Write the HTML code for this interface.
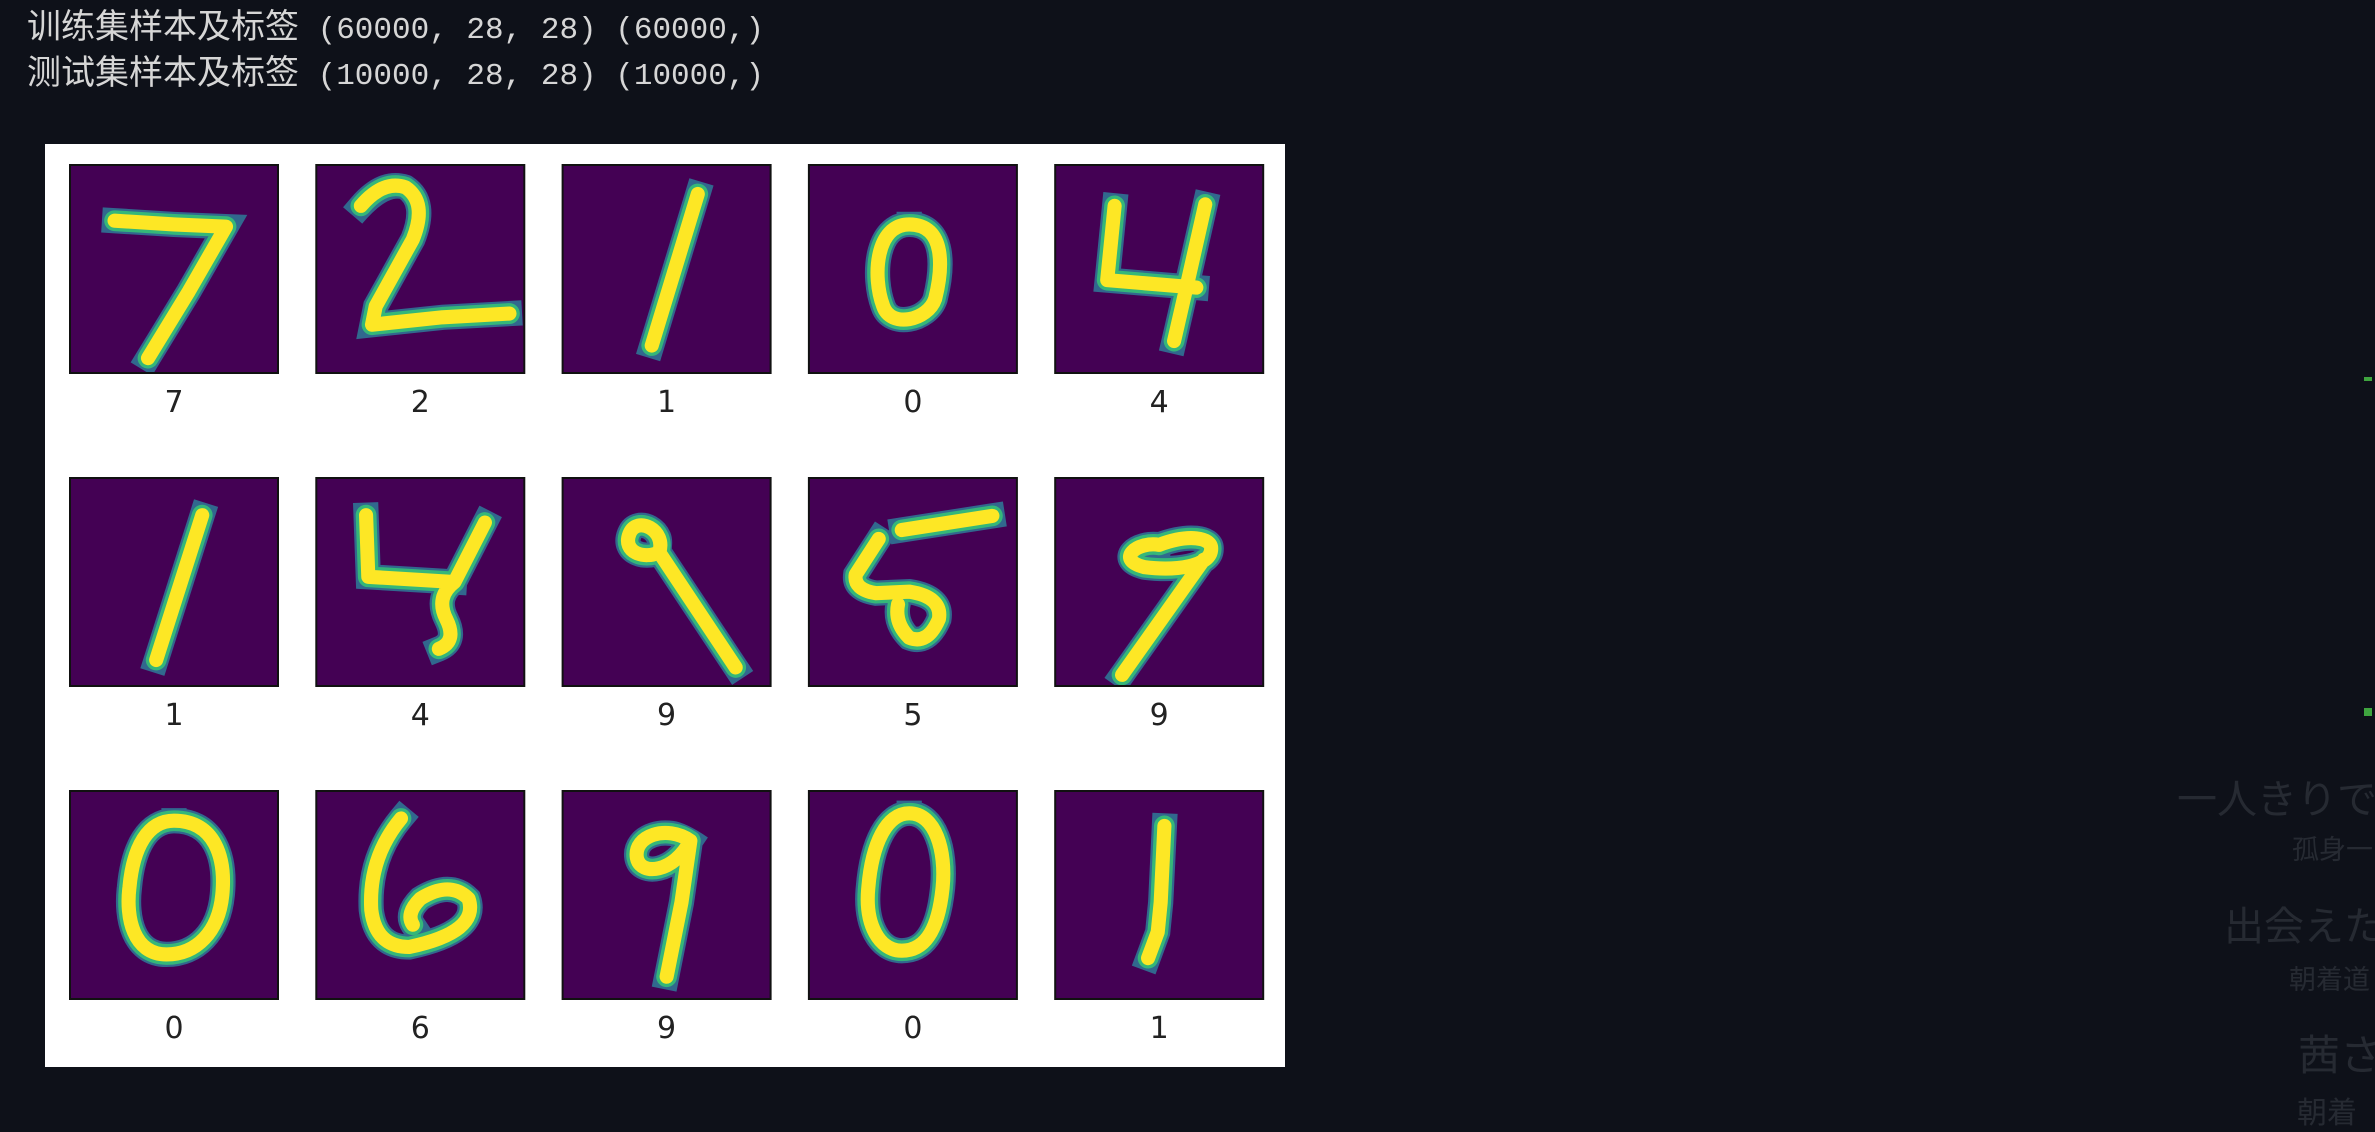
<!DOCTYPE html>
<html><head><meta charset="utf-8">
<style>
html,body{margin:0;padding:0;background:#0e1119;width:2375px;height:1126px;overflow:hidden}
.out{position:absolute;left:27px;color:#d6d6d6;font-family:"Liberation Mono","Noto Sans CJK SC",monospace;font-size:34px;white-space:pre;line-height:40px}
.out span{font-size:31px}
.faint{position:absolute;color:#262a32;font-family:"Liberation Sans","Noto Sans CJK JP",sans-serif;white-space:nowrap}
</style></head>
<body>
<div class="out" style="top:10px">训练集样本及标签<span> (60000, 28, 28) (60000,)</span></div>
<div class="out" style="top:56px">测试集样本及标签<span> (10000, 28, 28) (10000,)</span></div>

<svg id="fig" style="position:absolute;left:45px;top:144px" width="1240" height="923" xmlns="http://www.w3.org/2000/svg">
<rect x="0" y="0" width="1240" height="923" fill="#ffffff"/>
</svg>

<div class="faint" style="left:2177px;top:767px;font-size:40px">一人きりで</div>
<div class="faint" style="left:2292px;top:828px;font-size:27px">孤身一</div>
<div class="faint" style="left:2224px;top:894px;font-size:40px">出会えた</div>
<div class="faint" style="left:2289px;top:958px;font-size:27px">朝着道</div>
<div class="faint" style="left:2298px;top:1022px;font-size:42px">茜さ</div>
<div class="faint" style="left:2297px;top:1088px;font-size:30px">朝着</div>
<div style="position:absolute;left:2364px;top:377px;width:8px;height:4px;background:#3fa53f"></div>
<div style="position:absolute;left:2364px;top:708px;width:8px;height:8px;background:#3fa53f"></div>

<script>
const labels = [7,2,1,0,4, 1,4,9,5,9, 0,6,9,0,1];
const strokes = [
 "M6 7.5 L14 8 L21 8.3 L16 17 L10.5 26",
 "M6 5.5 Q9 2 12 3 Q15 5 13 10 L8 19 L7.5 21.5 L17 20.5 L26 20",
 "M18.2 3.9 L12 24.3",
 "M13.5 8 C18.5 8 18 14 17 18 C16 21 11 22 10 19 C8.5 15 9 8 13.5 8",
 "M8 5.5 L7 15.5 L19 16.5 M20.2 5.3 L18 15 L16 23.7",
 "M17.8 5 L11.6 24.5",
 "M6.7 5 L7 13.3 L18.6 14 M22.7 6 L18.6 14 Q16 16 17.5 19 Q19 22 16.5 23",
 "M13 10 C14 7 10 5 9 7.5 C8 10 11 11 13 10 L23.3 25.5",
 "M12.5 7 L24.7 5.1 M9.4 8.2 L6.3 13 Q6 15 9 15.5 L13.5 15.3 Q18 16 17.5 19 Q16 22.5 13.5 21.5 Q11.5 19.5 12 17",
 "M14 9 C18 7.5 21 8 21 9.5 C21 12 16 12.5 12 12 C8 11 11 8.5 14 9 M20 11 L9 26.5",
 "M14 4 C19.5 4 21 9 20.5 14 C20 19 17 22 13 22 C8.5 22 7.5 17 8 13 C8.5 7.5 10.5 4 14 4",
 "M11.4 3.7 Q7 9 7.4 16 Q8 21 12.5 21 Q22 19 20.5 14.5 Q18 12 14 14.5 Q12 16.5 13 18",
 "M17.2 6.7 C14 4.5 9.5 6 10 9 C10.5 11.5 15 11 17.2 6.7 L16 15 L14 25",
 "M13.5 3 C17 3 18.5 8 18 13 C17.5 18 16 21.5 12.5 21.5 C9.5 21.5 7.5 18 8 13 C8.5 7 10.5 3 13.5 3",
 "M14.7 4.7 L14.2 15 L13.8 19 L12.5 22.5"
];
const svg = document.getElementById('fig');
const NS = 'http://www.w3.org/2000/svg';
const colX = c => 25 + c * 246.3;
const rowY = r => 21 + r * 313;
const BOX = 208;
labels.forEach((lab, i) => {
  const c = i % 5, r = Math.floor(i / 5);
  const g = document.createElementNS(NS, 'svg');
  
  
  g.setAttribute('x', colX(c)); g.setAttribute('y', rowY(r));
  g.setAttribute('width', BOX); g.setAttribute('height', BOX);
  g.setAttribute('viewBox', '0 0 28 28');
  g.innerHTML = '<rect x="0" y="0" width="28" height="28" fill="#440154"/>' +
    '<path d="' + strokes[i] + '" fill="none" stroke="#31688e" stroke-width="3.4" stroke-linecap="square" stroke-linejoin="miter"/>' +
    '<path d="' + strokes[i] + '" fill="none" stroke="#35b779" stroke-width="2.8" stroke-linecap="round" stroke-linejoin="round"/>' +
    '<path d="' + strokes[i] + '" fill="none" stroke="#fde725" stroke-width="1.9" stroke-linecap="round" stroke-linejoin="round"/>';
  svg.appendChild(g);
  const b = document.createElementNS(NS, 'rect');
  
  
  b.setAttribute('x', colX(c)); b.setAttribute('y', rowY(r));
  b.setAttribute('width', BOX); b.setAttribute('height', BOX);
  b.setAttribute('fill', 'none'); b.setAttribute('stroke', '#111'); b.setAttribute('stroke-width', '2');
  svg.appendChild(b);
  const t = document.createElementNS(NS, 'text');
  
  
  t.setAttribute('x', colX(c) + BOX / 2); t.setAttribute('y', rowY(r) + BOX + 39);
  t.setAttribute('text-anchor', 'middle');
  t.setAttribute('font-family', 'DejaVu Sans, sans-serif');
  t.setAttribute('font-size', '30'); t.setAttribute('fill', '#222');
  t.textContent = lab;
  svg.appendChild(t);
});
</script>
</body></html>
